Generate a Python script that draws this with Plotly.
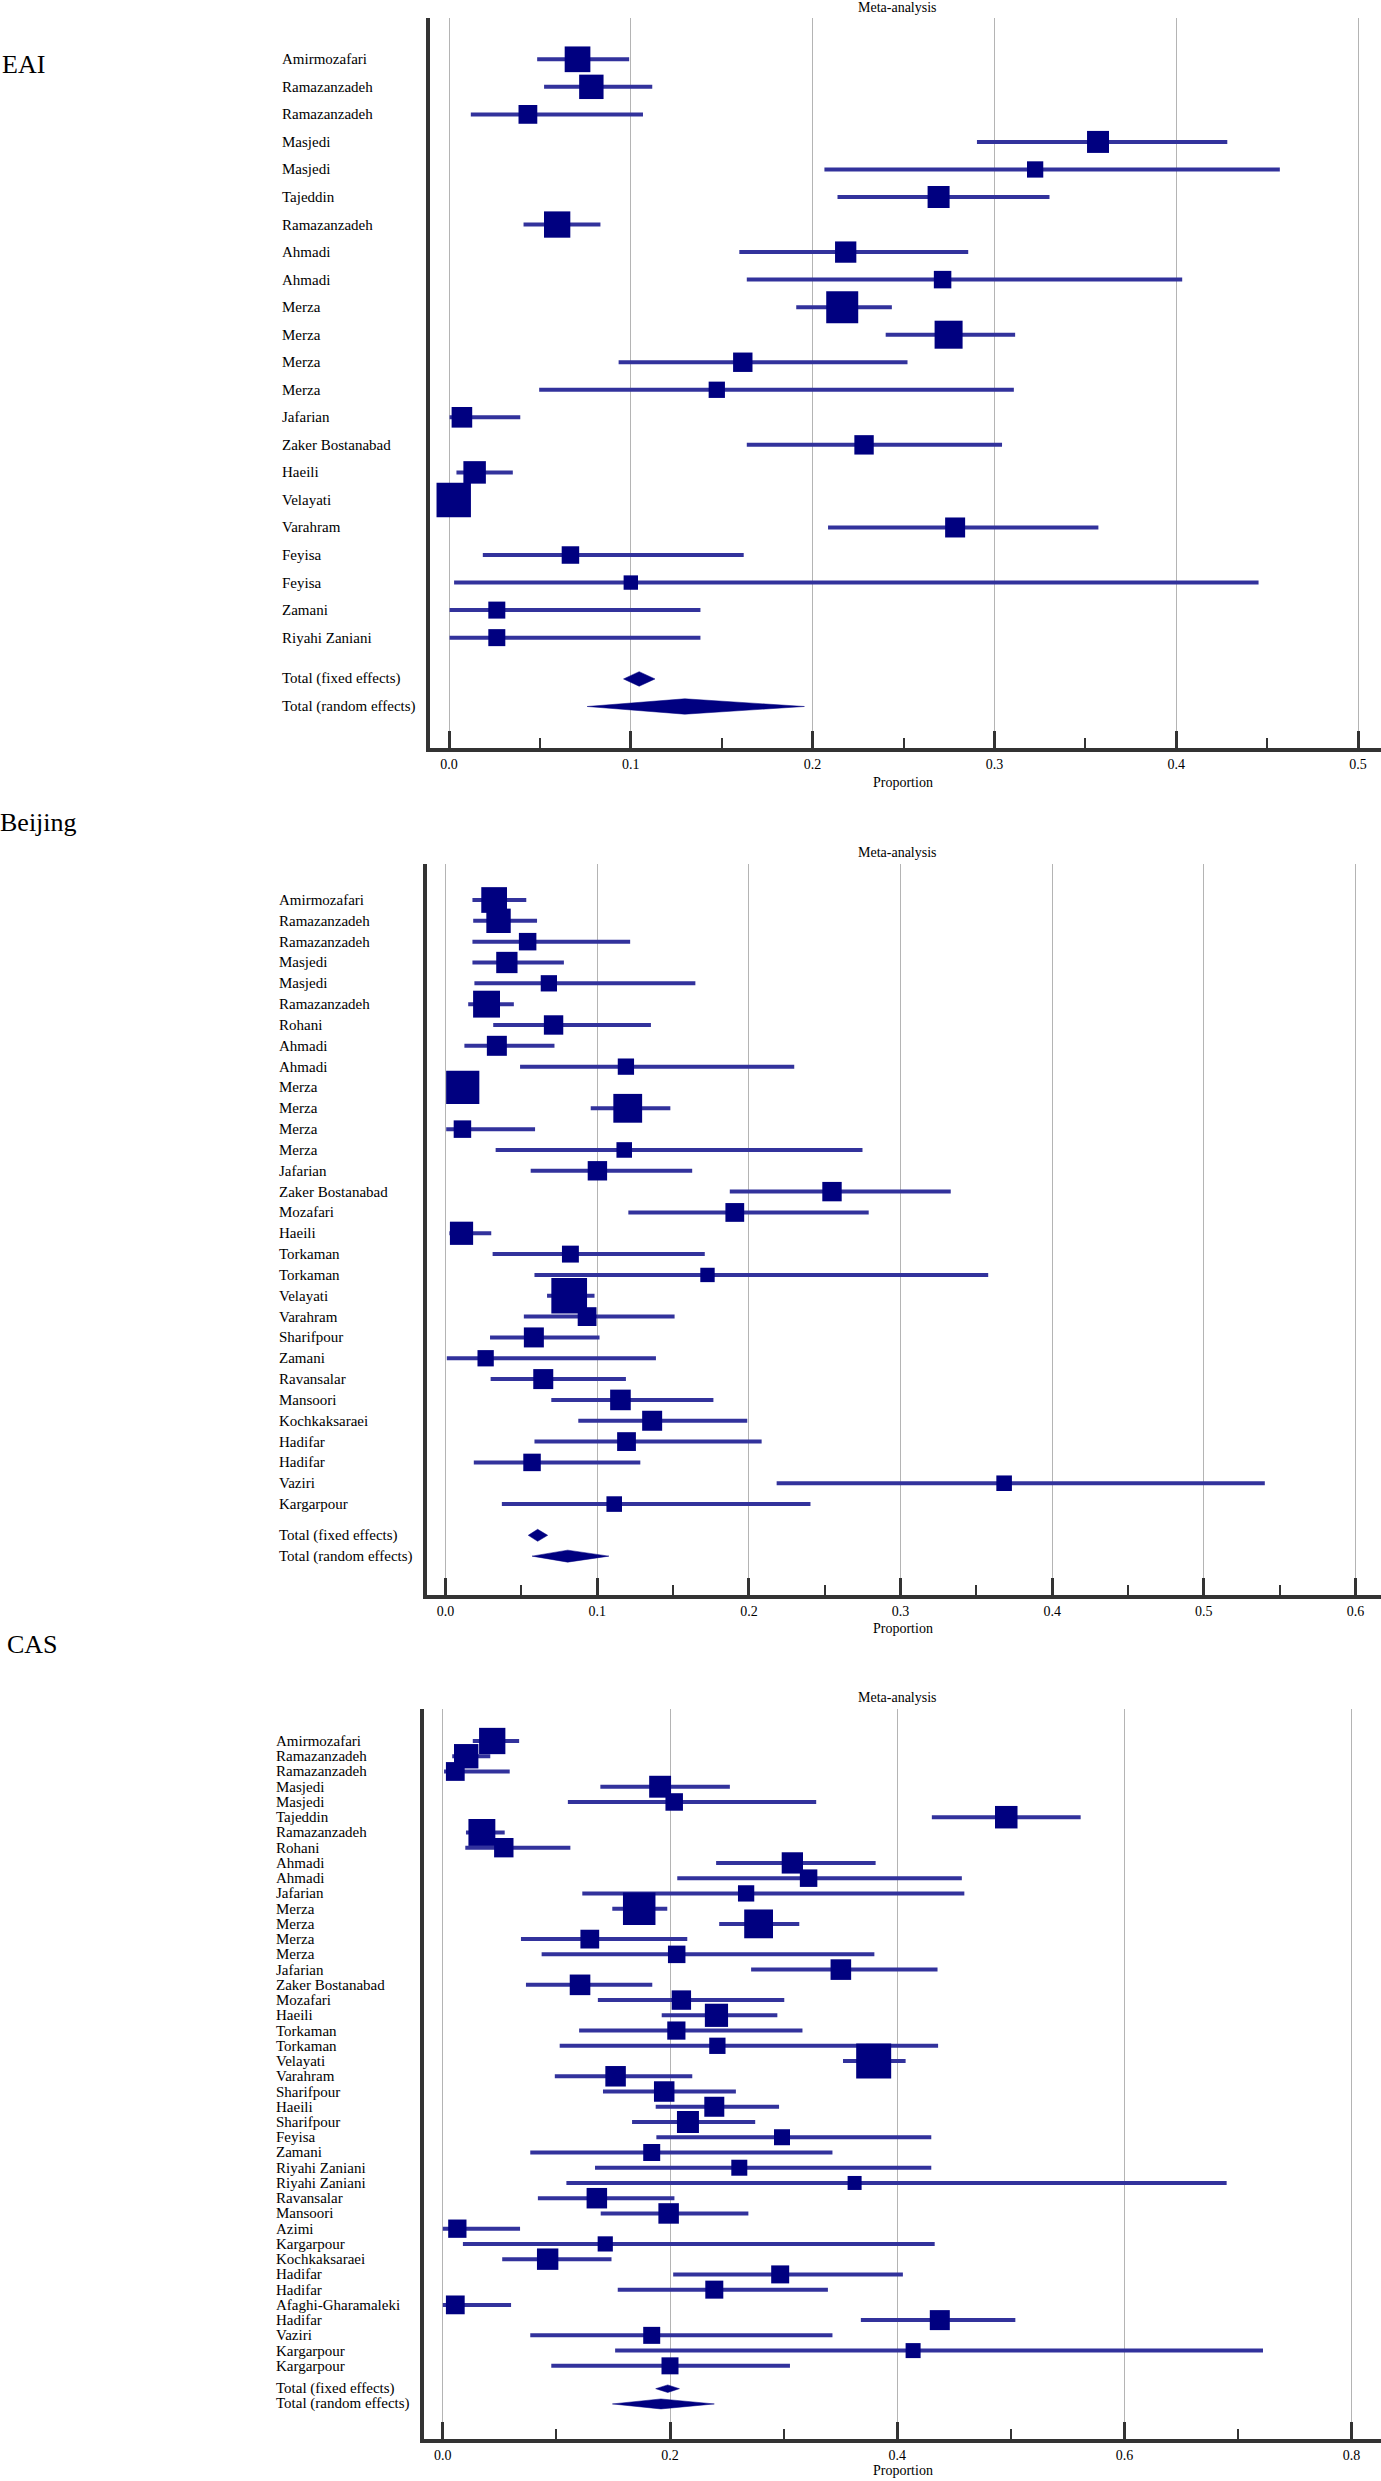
import math
import plotly.graph_objects as go

W, H = 1381, 2481

# ---------------- DATA ----------------
eai_studies = ["Amirmozafari", "Ramazanzadeh", "Ramazanzadeh", "Masjedi", "Masjedi", "Tajeddin",
               "Ramazanzadeh", "Ahmadi", "Ahmadi", "Merza", "Merza", "Merza", "Merza", "Jafarian",
               "Zaker Bostanabad", "Haeili", "Velayati", "Varahram", "Feyisa", "Feyisa", "Zamani",
               "Riyahi Zaniani"]
eai_est = [0.0707, 0.0783, 0.0434, 0.3570, 0.3224, 0.2693, 0.0595, 0.2182, 0.2715, 0.2163, 0.2748,
           0.1616, 0.1473, 0.0071, 0.2283, 0.0141, 0.0026, 0.2784, 0.0668, 0.1000, 0.0263, 0.0263]
eai_lo = [0.0485, 0.0523, 0.0120, 0.2904, 0.2065, 0.2137, 0.0410, 0.1597, 0.1638, 0.1910, 0.2402,
          0.0933, 0.0496, 0.0003, 0.1638, 0.0041, 0.0005, 0.2085, 0.0186, 0.0028, 0.0003, 0.0003]
eai_hi = [0.0991, 0.1118, 0.1067, 0.4281, 0.4570, 0.3303, 0.0833, 0.2856, 0.4033, 0.2436, 0.3114,
          0.2522, 0.3107, 0.0392, 0.3042, 0.0351, 0.0060, 0.3572, 0.1621, 0.4453, 0.1383, 0.1383]
eai_weight = [6.6, 5.95, 3.53, 4.84, 2.66, 4.84, 6.92, 4.54, 3.06, 10.24, 7.84, 3.76, 2.66, 4.24,
              3.76, 5.06, 11.83, 4.0, 3.06, 2.07, 2.89, 2.89]
eai_fixed = [0.1046, 0.0960, 0.1133]
eai_random = [0.1297, 0.0760, 0.1955]

bj_studies = ["Amirmozafari", "Ramazanzadeh", "Ramazanzadeh", "Masjedi", "Masjedi", "Ramazanzadeh",
              "Rohani", "Ahmadi", "Ahmadi", "Merza", "Merza", "Merza", "Merza", "Jafarian",
              "Zaker Bostanabad", "Mozafari", "Haeili", "Torkaman", "Torkaman", "Velayati", "Varahram",
              "Sharifpour", "Zamani", "Ravansalar", "Mansoori", "Kochkaksaraei", "Hadifar", "Hadifar",
              "Vaziri", "Kargarpour"]
bj_est = [0.0320, 0.0349, 0.0541, 0.0404, 0.0681, 0.0270, 0.0712, 0.0338, 0.1189, 0.0113, 0.1201,
          0.0111, 0.1178, 0.1001, 0.2548, 0.1907, 0.0105, 0.0823, 0.1727, 0.0815, 0.0933, 0.0582,
          0.0264, 0.0644, 0.1153, 0.1362, 0.1193, 0.0570, 0.3683, 0.1112]
bj_lo = [0.0177, 0.0182, 0.0177, 0.0177, 0.0190, 0.0149, 0.0314, 0.0124, 0.0491, 0.0060, 0.0957,
         0.0004, 0.0330, 0.0561, 0.1874, 0.1205, 0.0025, 0.0310, 0.0586, 0.0669, 0.0516, 0.0293,
         0.0008, 0.0297, 0.0697, 0.0875, 0.0586, 0.0186, 0.2183, 0.0371]
bj_hi = [0.0532, 0.0603, 0.1217, 0.0780, 0.1647, 0.0450, 0.1354, 0.0718, 0.2299, 0.0190, 0.1482,
         0.0590, 0.2749, 0.1626, 0.3331, 0.2790, 0.0301, 0.1709, 0.3578, 0.0982, 0.1510, 0.1015,
         0.1387, 0.1189, 0.1766, 0.1989, 0.2084, 0.1284, 0.5402, 0.2406]
bj_weight = [6.6, 5.95, 3.06, 4.54, 2.66, 7.24, 3.76, 4.0, 2.66, 11.02, 8.29, 3.06, 2.43, 3.76, 3.76,
             3.53, 5.38, 2.86, 2.07, 12.74, 3.53, 4.0, 2.66, 4.0, 4.24, 4.0, 3.53, 3.06, 2.43, 2.43]
bj_fixed = [0.0607, 0.0545, 0.0673]
bj_random = [0.0805, 0.0570, 0.1077]

cas_studies = ["Amirmozafari", "Ramazanzadeh", "Ramazanzadeh", "Masjedi", "Masjedi", "Tajeddin",
               "Ramazanzadeh", "Rohani", "Ahmadi", "Ahmadi", "Jafarian", "Merza", "Merza", "Merza",
               "Merza", "Jafarian", "Zaker Bostanabad", "Mozafari", "Haeili", "Torkaman", "Torkaman",
               "Velayati", "Varahram", "Sharifpour", "Haeili", "Sharifpour", "Feyisa", "Zamani",
               "Riyahi Zaniani", "Riyahi Zaniani", "Ravansalar", "Mansoori", "Azimi", "Kargarpour",
               "Kochkaksaraei", "Hadifar", "Hadifar", "Afaghi-Gharamaleki", "Hadifar", "Vaziri",
               "Kargarpour", "Kargarpour"]
cas_est = [0.0435, 0.0206, 0.0110, 0.1913, 0.2037, 0.4960, 0.0344, 0.0537, 0.3077, 0.3220, 0.2670,
           0.1729, 0.2780, 0.1294, 0.2059, 0.3504, 0.1208, 0.2100, 0.2409, 0.2056, 0.2417, 0.3793,
           0.1521, 0.1949, 0.2390, 0.2158, 0.2986, 0.1839, 0.2610, 0.3625, 0.1356, 0.1988, 0.0128,
           0.1430, 0.0923, 0.2970, 0.2390, 0.0110, 0.4375, 0.1839, 0.4140, 0.2000]
cas_lo = [0.0264, 0.0083, 0.0011, 0.1387, 0.1101, 0.4305, 0.0204, 0.0198, 0.2406, 0.2064, 0.1228,
          0.1492, 0.2433, 0.0688, 0.0870, 0.2714, 0.0732, 0.1365, 0.1927, 0.1200, 0.1029, 0.3523,
          0.0986, 0.1410, 0.1874, 0.1666, 0.1880, 0.0770, 0.1340, 0.1088, 0.0837, 0.1390, 0.0000,
          0.0177, 0.0523, 0.2028, 0.1540, 0.0000, 0.3680, 0.0770, 0.1517, 0.0955]
cas_hi = [0.0672, 0.0418, 0.0589, 0.2527, 0.3287, 0.5615, 0.0545, 0.1123, 0.3810, 0.4569, 0.4591,
          0.1976, 0.3138, 0.2152, 0.3799, 0.4355, 0.1844, 0.3006, 0.2945, 0.3166, 0.4360, 0.4074,
          0.2196, 0.2580, 0.2960, 0.2750, 0.4300, 0.3430, 0.4300, 0.6900, 0.2039, 0.2690, 0.0680,
          0.4330, 0.1485, 0.4050, 0.3390, 0.0601, 0.5040, 0.3430, 0.7220, 0.3056]
cas_weight = [6.92, 5.95, 3.53, 4.8, 3.06, 5.06, 7.24, 3.76, 4.54, 3.06, 2.66, 10.56, 8.29, 3.53,
              3.06, 4.24, 4.24, 3.76, 5.38, 3.31, 2.66, 12.25, 4.2, 4.2, 4.0, 4.84, 2.56, 2.89, 2.56,
              1.96, 4.2, 4.2, 3.35, 2.31, 4.58, 3.24, 3.24, 3.53, 4.0, 2.89, 2.25, 2.89]
cas_fixed = [0.1980, 0.1874, 0.2083]
cas_random = [0.1920, 0.1493, 0.2390]

total_labels = ["Total (fixed effects)", "Total (random effects)"]

# ---------------- LAYOUT GEOMETRY ----------------
FONT = "Liberation Serif, Times New Roman, serif"
NAVY = "#000080"
CI_COLOR = "#32329c"
AX_COLOR = "#333333"

panels = [
    dict(name="EAI", studies=eai_studies, est=eai_est, lo=eai_lo, hi=eai_hi, w=eai_weight,
         fixed=eai_fixed, random=eai_random,
         top=18, bottom=748, left=430, zero=449.0, ppu=1818.0, row0=59.3, rowh=27.54,
         dtick=0.1, minor=0.05, hf=7.3, hr=7.7, lab_x=280,
         name_x=0, name_y=64, meta_y=8, prop_y=782),
    dict(name="Beijing", studies=bj_studies, est=bj_est, lo=bj_lo, hi=bj_hi, w=bj_weight,
         fixed=bj_fixed, random=bj_random,
         top=864, bottom=1595, left=427, zero=445.6, ppu=1516.5, row0=900.0, rowh=20.83,
         dtick=0.1, minor=0.05, hf=6.0, hr=6.0, lab_x=277,
         name_x=-2, name_y=822, meta_y=853, prop_y=1628),
    dict(name="CAS", studies=cas_studies, est=cas_est, lo=cas_lo, hi=cas_hi, w=cas_weight,
         fixed=cas_fixed, random=cas_random,
         top=1709, bottom=2439, left=424, zero=442.8, ppu=1136.0, row0=1741.0, rowh=15.24,
         dtick=0.2, minor=0.1, hf=3.8, hr=5.0, lab_x=274,
         name_x=5, name_y=1644, meta_y=1697, prop_y=2470),
]

fig = go.Figure()
annotations = []
layout_axes = {}

for i, p in enumerate(panels, start=1):
    sfx = "" if i == 1 else str(i)
    xa, ya = "x" + sfx, "y" + sfx
    n = len(p["studies"])
    rows = list(range(n))
    r_fixed, r_random = n + 0.5, n + 1.5

    fig.add_trace(go.Scatter(
        x=p["est"], y=rows, xaxis=xa, yaxis=ya, mode="markers",
        marker=dict(symbol="square", color=NAVY, opacity=1,
                    size=[10 * math.sqrt(v) for v in p["w"]], line=dict(width=0)),
        error_x=dict(type="data", symmetric=False,
                     array=[h - e for h, e in zip(p["hi"], p["est"])],
                     arrayminus=[e - l for e, l in zip(p["est"], p["lo"])],
                     color=CI_COLOR, thickness=4, width=0),
        hoverinfo="skip"))

    for (est, lo, hi), r, hpx in ((p["fixed"], r_fixed, p["hf"]), (p["random"], r_random, p["hr"])):
        h = hpx / p["rowh"]
        fig.add_trace(go.Scatter(
            x=[lo, est, hi, est, lo], y=[r, r - h, r, r + h, r], xaxis=xa, yaxis=ya,
            mode="lines", fill="toself", fillcolor=NAVY, line=dict(color=NAVY, width=0.5),
            hoverinfo="skip"))

    xr = [(p["left"] - p["zero"]) / p["ppu"], (W - p["zero"]) / p["ppu"]]
    yr = [(p["bottom"] - p["row0"]) / p["rowh"], (p["top"] - p["row0"]) / p["rowh"]]

    layout_axes["xaxis" + sfx] = dict(
        domain=[p["left"] / W, 1], anchor=ya, range=xr, dtick=p["dtick"], tick0=0,
        tickformat=".1f", showline=True, linecolor=AX_COLOR, linewidth=4,
        ticks="inside", ticklen=17, tickwidth=3, tickcolor=AX_COLOR,
        minor=dict(dtick=p["minor"], ticks="inside", ticklen=10, tickwidth=2,
                   tickcolor=AX_COLOR, showgrid=False),
        showgrid=True, gridcolor="#b4b4b4", gridwidth=1, zeroline=False,
        tickfont=dict(family=FONT, size=14, color="black"), fixedrange=True)
    layout_axes["yaxis" + sfx] = dict(
        domain=[1 - p["bottom"] / H, 1 - p["top"] / H], anchor=xa, range=yr,
        showline=True, linecolor=AX_COLOR, linewidth=4, showgrid=False, zeroline=False,
        showticklabels=False, ticks="", fixedrange=True)

    label_font = dict(family=FONT, size=15, color="black")
    for r, s in zip(rows, p["studies"]):
        annotations.append(dict(text=s, xref="paper", yref=ya, x=p["lab_x"] / W, y=r,
                                xanchor="left", yanchor="middle", showarrow=False,
                                font=label_font))
    for r, s in zip((r_fixed, r_random), total_labels):
        annotations.append(dict(text=s, xref="paper", yref=ya, x=p["lab_x"] / W, y=r,
                                xanchor="left", yanchor="middle", showarrow=False,
                                font=label_font))
    annotations.append(dict(text=p["name"], xref="paper", yref="paper", x=p["name_x"] / W,
                            y=1 - p["name_y"] / H, xanchor="left", yanchor="middle",
                            showarrow=False, font=dict(family=FONT, size=26, color="black")))
    annotations.append(dict(text="Meta-analysis", xref="paper", yref="paper", x=897 / W,
                            y=1 - p["meta_y"] / H, xanchor="center", yanchor="middle",
                            showarrow=False, font=dict(family=FONT, size=14, color="black")))
    annotations.append(dict(text="Proportion", xref="paper", yref="paper", x=903 / W,
                            y=1 - p["prop_y"] / H, xanchor="center", yanchor="middle",
                            showarrow=False, font=dict(family=FONT, size=14, color="black")))

fig.update_layout(
    width=W, height=H, margin=dict(l=0, r=0, t=0, b=0),
    paper_bgcolor="white", plot_bgcolor="white", showlegend=False,
    annotations=annotations, **layout_axes)

fig.write_html("out.html", config={"displayModeBar": False},
               post_script="document.body.style.margin='0';")
